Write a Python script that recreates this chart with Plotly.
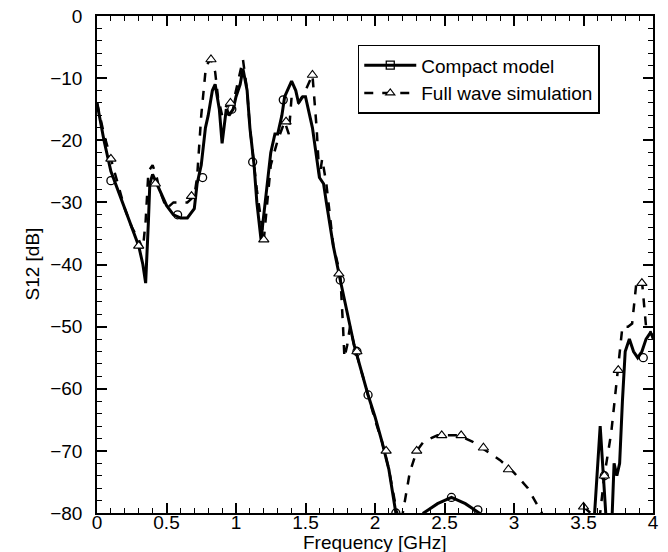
import plotly.graph_objects as go

# Compact model (solid)
cm_x = [0.0, 0.05, 0.1, 0.15, 0.2, 0.25, 0.3, 0.33, 0.35, 0.37, 0.38, 0.4, 0.45, 0.5, 0.55, 0.6, 0.65, 0.7, 0.72,
        0.75, 0.78, 0.8, 0.83, 0.85, 0.88, 0.9, 0.93, 0.95, 0.98, 1.0, 1.03, 1.05, 1.08, 1.1, 1.13, 1.15, 1.18,
        1.2, 1.25, 1.28, 1.3, 1.33, 1.35, 1.4, 1.43, 1.45, 1.48, 1.5, 1.55, 1.6, 1.63, 1.65, 1.7, 1.75, 1.8,
        1.85, 1.9, 1.95, 2.0, 2.05, 2.1, 2.15, 2.2,
        None,
        2.3, 2.35, 2.45, 2.55, 2.65, 2.75, 2.8,
        None,
        3.55, 3.58, 3.62, 3.66, 3.7, 3.72, 3.74, 3.76, 3.78, 3.8, 3.83, 3.86, 3.89, 3.92, 3.95, 3.98, 4.0]
cm_y = [-14, -20, -25, -28, -31, -34, -37, -40, -43, -33, -27, -25.5, -28, -30.5, -32, -32.5, -32.5, -31, -27,
        -24, -18, -16, -12, -11, -15, -20.5, -15, -16, -15, -13, -11, -8.5, -12, -18, -24, -30, -36,
        -32, -22, -19, -19, -16, -13, -10.5, -12, -14, -13, -13, -18, -26, -27, -30, -37, -42.5, -48,
        -53, -57, -61, -64.5, -68.5, -73, -80, -85,
        None,
        -85, -80, -78.5, -77.5, -78.5, -80, -82,
        None,
        -82, -80, -66, -80, -84, -72, -74, -72, -62, -54, -52, -54, -55, -54, -52, -51, -51.5]

# Full wave simulation (dashed)
fw_x = [0.0, 0.05, 0.1, 0.15, 0.2, 0.25, 0.3, 0.33, 0.35, 0.37, 0.4, 0.43, 0.45, 0.5, 0.55, 0.6, 0.65, 0.7,
        0.72, 0.75, 0.78, 0.8, 0.82, 0.85, 0.87, 0.9, 0.93, 0.98, 1.0, 1.03, 1.05, 1.08, 1.1, 1.15, 1.2,
        1.25, 1.3, 1.35, 1.38, 1.4, 1.45, 1.5, 1.55, 1.58, 1.6, 1.62, 1.65, 1.7, 1.75, 1.77, 1.78, 1.8,
        1.82, 1.85, 1.9, 1.95, 2.0, 2.05, 2.1, 2.15, 2.2,
        None,
        2.18, 2.2, 2.25, 2.3, 2.35, 2.4, 2.45, 2.55, 2.6, 2.7, 2.8, 2.9, 3.0, 3.1, 3.15, 3.2, 3.22,
        None,
        3.5, 3.55, 3.6, 3.62, 3.65, 3.7, 3.75, 3.78, 3.82, 3.85, 3.88, 3.92, 3.95, 3.97, 4.0]
fw_y = [-14, -19, -23, -27, -31, -34, -36, -37.5, -33, -25, -24, -26, -28, -31, -30, -30, -30, -29,
        -26, -16, -9, -7.5, -7, -9, -13, -16, -14.5, -14, -12, -9, -7, -12, -18, -28, -36,
        -24, -20, -17, -19, -13, -14, -12, -9.5, -18, -26, -23, -27, -37, -41.5, -50, -55, -53,
        -50, -53, -57, -61, -65, -68.5, -73, -79, -84,
        None,
        -84, -80, -73.5, -70, -68.5, -68, -67.5, -67.5, -67.5, -68.5, -70, -71.5, -73.5, -76, -78, -80, -82,
        None,
        -79, -80, -84, -80, -74, -67, -57, -50, -50, -49.5, -43, -42.5, -50, -50, -52]

# Sparse symbol positions
cm_mx = [0.1, 0.58, 0.76, 0.97, 1.12, 1.34, 1.75, 1.87, 1.95, 2.15, 2.55, 2.74, 3.65, 3.93]
cm_my = [-26.5, -32, -26, -15, -23.5, -13.5, -42.5, -54, -61, -80, -77.5, -79.5, -74, -55]
fw_mx = [0.1, 0.3, 0.42, 0.68, 0.82, 0.96, 1.2, 1.36, 1.55, 1.74, 1.87, 2.08, 2.3, 2.48, 2.62, 2.78,
         2.96, 3.5, 3.65, 3.75, 3.92]
fw_my = [-23, -37, -27, -29, -7, -14, -36, -17, -9.5, -41.5, -54, -70, -70, -67.5, -67.5, -69.5,
         -73, -79, -74, -57, -43]

FONT = "Liberation Sans, Arial, sans-serif"

fig = go.Figure()
fig.add_trace(go.Scatter(x=cm_x, y=cm_y, mode="lines", line=dict(color="black", width=3),
                         showlegend=False, connectgaps=False))
fig.add_trace(go.Scatter(x=fw_x, y=fw_y, mode="lines", line=dict(color="black", width=2.5, dash="dash"),
                         showlegend=False, connectgaps=False))
fig.add_trace(go.Scatter(x=cm_mx, y=cm_my, mode="markers", showlegend=False, cliponaxis=True,
                         marker=dict(symbol="circle-open", size=8, color="black", line=dict(width=1.3))))
fig.add_trace(go.Scatter(x=fw_mx, y=fw_my, mode="markers", showlegend=False, cliponaxis=True,
                         marker=dict(symbol="triangle-up", size=9, color="white",
                                     line=dict(width=1.1, color="black"))))
# legend entries
fig.add_trace(go.Scatter(x=[None], y=[None], mode="lines+markers", name="Compact model",
                         line=dict(color="black", width=3),
                         marker=dict(symbol="square-open", size=8, color="black", line=dict(width=1.3))))
fig.add_trace(go.Scatter(x=[None], y=[None], mode="lines+markers", name="Full wave simulation",
                         line=dict(color="black", width=2.5, dash="dash"),
                         marker=dict(symbol="triangle-up", size=8, color="white",
                                     line=dict(width=1.1, color="black"))))

axis_common = dict(showgrid=False, zeroline=False, showline=True, linecolor="black", linewidth=1.5,
                   mirror="allticks", ticks="inside", ticklen=10, tickwidth=1.5, tickcolor="black",
                   automargin=False,
                   tickfont=dict(family=FONT, size=19, color="black"))

# legend drop shadow (pixel box converted to paper coords of the plot area)
def px_x(p):
    return (p - 97) / 556.0

def px_y(p):
    return (513 - p) / 497.0

fig.update_layout(
    width=668, height=552,
    margin=dict(l=97, r=15, t=16, b=39),
    paper_bgcolor="white", plot_bgcolor="white",
    font=dict(family=FONT, size=16, color="black"),
    xaxis=dict(range=[0, 4], dtick=0.5, tick0=0, ticklabelstandoff=-9,
               minor=dict(dtick=0.1, ticks="inside", ticklen=5, tickcolor="black", tickwidth=1.2),
               **axis_common),
    yaxis=dict(range=[-80, 0], dtick=10, tick0=0, ticklabelstandoff=9,
               minor=dict(dtick=2, ticks="inside", ticklen=5, tickcolor="black", tickwidth=1.2),
               **axis_common),
    legend=dict(x=0.469, y=0.942, xanchor="left", yanchor="top", bgcolor="white",
                bordercolor="black", borderwidth=1.5, itemwidth=52,
                font=dict(family=FONT, size=19),
                tracegroupgap=2),
    shapes=[dict(type="rect", xref="paper", yref="paper", layer="above",
                 x0=px_x(361), x1=px_x(600), y0=px_y(113), y1=px_y(48),
                 fillcolor="black", line=dict(width=0))],
    annotations=[
        dict(text="Frequency [GHz]", xref="paper", yref="paper", x=0.5, y=0, yshift=-29,
             xanchor="center", yanchor="middle", showarrow=False, font=dict(family=FONT, size=19)),
        dict(text="S12 [dB]", xref="paper", yref="paper", x=0, y=0.5, xshift=-65, textangle=-90,
             xanchor="center", yanchor="middle", showarrow=False, font=dict(family=FONT, size=19)),
    ],
)

fig.write_html("out.html")
